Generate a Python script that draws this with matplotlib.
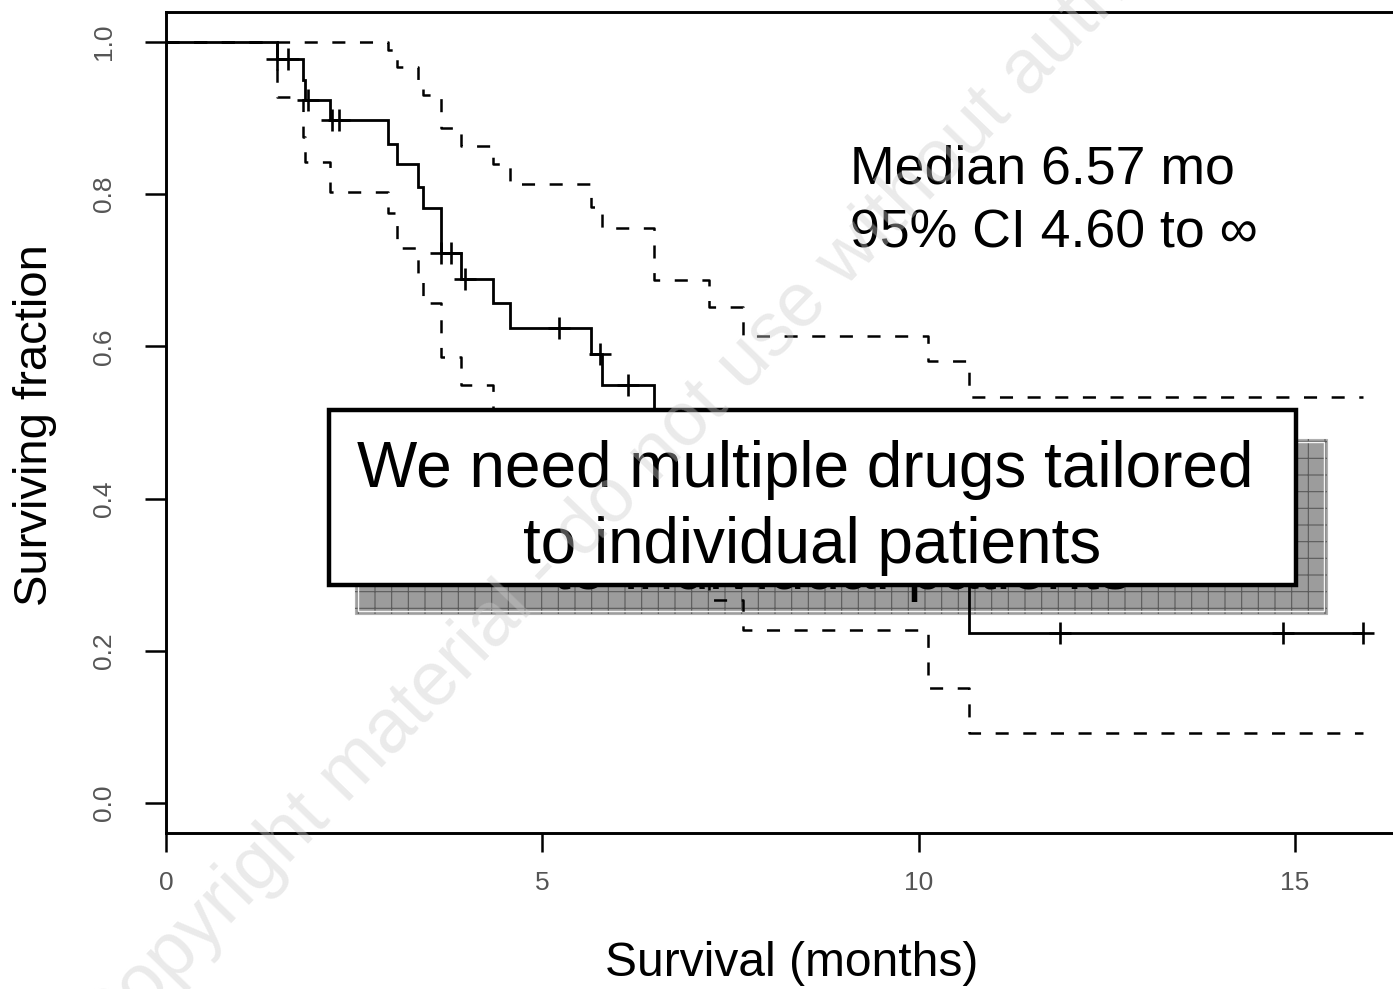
import numpy as np
import matplotlib
matplotlib.use("Agg")
import matplotlib.pyplot as plt
from matplotlib.patches import Rectangle
from matplotlib import font_manager

# ---------------- data ----------------
event_times = [1.47, 1.815, 1.845, 2.18, 2.95, 3.07, 3.345, 3.41, 3.65, 3.92,
               4.34, 4.57, 5.64, 5.79, 6.48, 7.21, 7.66, 10.12, 10.67]
surv = [0.978, 0.950, 0.924, 0.898, 0.866, 0.840, 0.809, 0.782, 0.723, 0.689,
        0.657, 0.624, 0.590, 0.549, 0.494, 0.434, 0.372, 0.297, 0.223]
upper_ci = [1.0, 1.0, 1.0, 1.0, 0.990, 0.967, 0.950, 0.930, 0.887, 0.863,
            0.840, 0.813, 0.783, 0.756, 0.687, 0.652, 0.614, 0.581, 0.534]
lower_ci = [0.928, 0.875, 0.842, 0.803, 0.775, 0.729, 0.696, 0.657, 0.586, 0.549,
            0.515, 0.475, 0.430, 0.390, 0.320, 0.267, 0.227, 0.151, 0.092]
censor_times = [1.48, 1.62, 1.885, 2.20, 2.30, 3.66, 3.79, 3.97, 5.22, 5.77,
                6.14, 11.88, 14.84, 15.90]
last_time = 15.90

x_ticks = [0, 5, 10, 15]
x_tick_labels = ["0", "5", "10", "15"]
y_ticks = [0.0, 0.2, 0.4, 0.6, 0.8, 1.0]
y_tick_labels = ["0.0", "0.2", "0.4", "0.6", "0.8", "1.0"]

x_label = "Survival (months)"
y_label = "Surviving fraction"
median_lines = ["Median 6.57 mo", "95% CI 4.60 to \u221e"]
box_lines = ["We need multiple drugs tailored", "to individual patients"]
watermark = "Copyright material - do not use without authorization"

# ---------------- fonts ----------------
available = {f.name for f in font_manager.fontManager.ttflist}
main_font = ["Liberation Sans", "DejaVu Sans"]
narrow_font = (["Liberation Sans Narrow", "DejaVu Sans"]
               if "Liberation Sans Narrow" in available else main_font)
plt.rcParams["font.family"] = main_font
plt.rcParams["lines.scale_dashes"] = False
plt.rcParams["hatch.linewidth"] = 0.8

W, H = 1393, 989
fig = plt.figure(figsize=(W / 100, H / 100), dpi=100)
fig.patch.set_facecolor("white")


def fx(px):
    return px / W


def fy(py):
    return 1 - py / H


px_per_unit = 75.27
ax = fig.add_axes([fx(166), fy(833.4), (W - 166) / W, (833.4 - 11.6) / H])
ax.set_xlim(0, (W - 166) / px_per_unit)
ax.set_ylim(-0.04, 1.04)
ax.set_facecolor("white")

for side in ["left", "top", "bottom"]:
    ax.spines[side].set_linewidth(2.1)
    ax.spines[side].set_color("black")
ax.spines["right"].set_visible(False)

tick_color = "#555555"
ax.set_xticks(x_ticks)
ax.set_xticklabels(x_tick_labels, fontfamily=narrow_font, fontsize=19, color=tick_color)
ax.set_yticks(y_ticks)
ax.set_yticklabels(y_tick_labels, fontfamily=narrow_font, fontsize=19, color=tick_color,
                   rotation=90, va="center")
ax.tick_params(axis="x", length=14, width=1.8, pad=13, direction="out")
ax.tick_params(axis="y", length=15, width=1.8, pad=21, direction="out")

# ---------------- Kaplan-Meier curve and confidence band ----------------
t = np.array([0.0] + event_times + [last_time])
s = np.array([1.0] + surv + [surv[-1]])
up = np.array([1.0] + upper_ci + [upper_ci[-1]])
lo = np.array([1.0] + lower_ci + [lower_ci[-1]])

ax.step(t, s, where="post", color="black", lw=2.0, zorder=3, solid_joinstyle="miter")
dash = (0, (9.4, 10.5))
ax.step(t, up, where="post", color="black", lw=1.8, linestyle=dash, zorder=3)
ax.step(t, lo, where="post", color="black", lw=1.8, linestyle=dash, zorder=3)

ct = np.array(censor_times)
idx = np.searchsorted(t, ct, side="right") - 1
cs = s[idx]
ax.plot(ct, cs, linestyle="none", marker="+", markersize=16, markeredgewidth=1.9,
        color="black", zorder=3, clip_on=False)

# ---------------- median annotation ----------------
fig.text(fx(850), fy(183), median_lines[0], fontsize=38.6, ha="left", va="baseline",
         fontfamily=main_font)
fig.text(fx(850), fy(247), median_lines[1], fontsize=38.6, ha="left", va="baseline",
         fontfamily=main_font)

# ---------------- overlay text box with shadow ----------------
sh_dx, sh_dy = 30, 26
box_l, box_r, box_t, box_b = 329, 1296, 410, 585
line_x = [805, 812]
line_y = [487, 563]
shadow = Rectangle((fx(box_l + 26), fy(box_b + 29)), (box_r - box_l + 5) / W,
                   (box_b - box_t) / H, transform=fig.transFigure,
                   facecolor="#9c9c9c", edgecolor="#b0b0b0", lw=0.8,
                   zorder=1.5, clip_on=False)
ax.add_artist(shadow)
hatch = Rectangle((fx(box_l + 26), fy(box_b + 29)), (box_r - box_l + 5) / W,
                  (box_b - box_t) / H, transform=fig.transFigure,
                  facecolor="none", edgecolor="#5a5a5a", lw=0, hatch="+",
                  zorder=1.6, clip_on=False)
ax.add_artist(hatch)
inner = Rectangle((fx(box_l + 29), fy(box_b + 26)), (box_r - box_l - 1) / W,
                  (box_b - box_t - 6) / H, transform=fig.transFigure,
                  facecolor="none", edgecolor="#f4f4f4", lw=1.0,
                  zorder=1.7, clip_on=False)
ax.add_artist(inner)
for i, line in enumerate(box_lines):
    ax.text(fx(line_x[i] + sh_dx), fy(line_y[i] + sh_dy), line, transform=fig.transFigure,
            fontsize=46, ha="center", va="baseline", color="black", zorder=1.8,
            clip_on=False, fontfamily=main_font)

box = Rectangle((fx(box_l), fy(box_b)), (box_r - box_l) / W, (box_b - box_t) / H,
                transform=fig.transFigure, facecolor="white", edgecolor="black",
                lw=3.2, zorder=10, clip_on=False, joinstyle="miter")
ax.add_artist(box)
for i, line in enumerate(box_lines):
    ax.text(fx(line_x[i]), fy(line_y[i]), line, transform=fig.transFigure,
            fontsize=46, ha="center", va="baseline", color="black", zorder=11,
            clip_on=False, fontfamily=main_font)

# ---------------- axis titles ----------------
fig.text(fx(792), fy(963), x_label, fontsize=34.5, ha="center", va="center",
         fontfamily=main_font)
fig.text(fx(35), fy(425), y_label, fontsize=34, ha="center", va="center",
         rotation=90, fontfamily=main_font)

# ---------------- watermark ----------------
fig.text(fx(704), fy(406), watermark, fontsize=55, ha="center", va="center",
         rotation=46, color="#cccccc", alpha=0.4, zorder=20,
         fontfamily=main_font, rotation_mode="anchor")

fig.savefig("out.png", dpi=100)
